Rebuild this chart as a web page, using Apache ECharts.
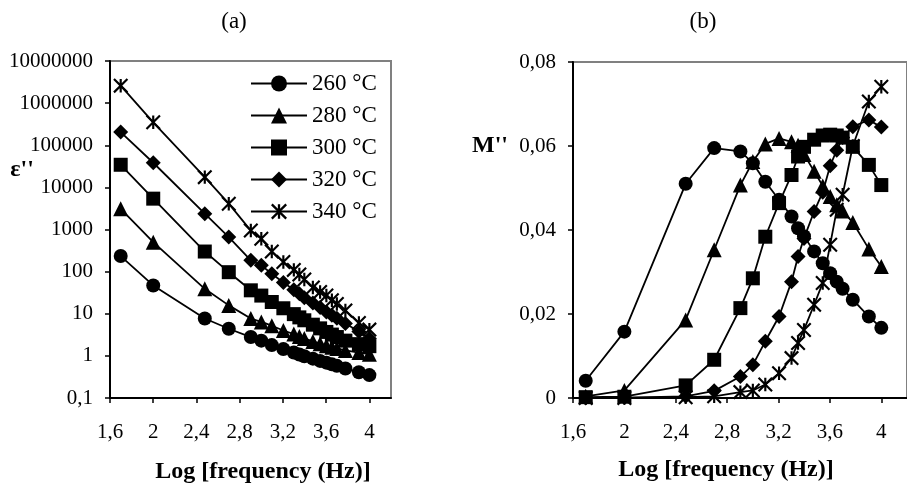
<!DOCTYPE html>
<html><head><meta charset="utf-8">
<script src="https://cdn.jsdelivr.net/npm/echarts@6/dist/echarts.min.js"></script>
<style>html,body{margin:0;padding:0;background:#fff}#c{width:907px;height:489px}</style>
</head><body><div id="c"></div>
<script>
// ---- data ----
var seriesNames = ['260 °C', '280 °C', '300 °C', '320 °C', '340 °C'];
var logFreq = [1.699, 2, 2.477, 2.699, 2.903, 3, 3.097, 3.204, 3.301, 3.352, 3.398, 3.477, 3.544, 3.602, 3.653, 3.699, 3.778, 3.903, 4];
// epsilon'' (panel a)
var eps260 = [234, 47, 7.7, 4.4, 2.8, 2.3, 1.8, 1.45, 1.2, 1.08, 0.98, 0.86, 0.76, 0.69, 0.63, 0.58, 0.5, 0.41, 0.35];
var eps280 = [3100, 500, 39, 15.8, 7.7, 6.4, 5.2, 4.0, 3.3, 2.9, 2.6, 2.2, 1.95, 1.75, 1.6, 1.5, 1.35, 1.2, 1.1];
var eps300 = [34400, 5400, 300, 97, 36, 27, 19, 13.5, 9.8, 8.2, 7, 5.5, 4.5, 3.7, 3.2, 2.8, 2.3, 1.9, 1.7];
var eps320 = [205000, 38400, 2370, 660, 185, 141, 89, 55, 37, 30, 24, 18, 14, 11, 9.2, 7.8, 5.9, 3.8, 2.6];
var eps340 = [2600000, 350000, 17500, 4100, 944, 605, 300, 170, 110, 85, 65, 42, 33, 27, 21, 17, 12, 6, 4.2];
// M'' (panel b)
var m260 = [0.0041, 0.0158, 0.051, 0.0595, 0.0587, 0.0559, 0.0515, 0.0472, 0.0432, 0.0404, 0.0385, 0.0349, 0.0321, 0.0297, 0.0277, 0.026, 0.0234, 0.0194, 0.0167];
var m280 = [0.0004, 0.0018, 0.0186, 0.0353, 0.0507, 0.0563, 0.0605, 0.0618, 0.061, 0.0602, 0.058, 0.054, 0.0505, 0.048, 0.046, 0.0445, 0.0418, 0.0355, 0.0313];
var m300 = [0.0002, 0.0003, 0.003, 0.0091, 0.0214, 0.0285, 0.0384, 0.0464, 0.0531, 0.0575, 0.0598, 0.0615, 0.0625, 0.0627, 0.0625, 0.062, 0.0598, 0.0555, 0.0507];
var m320 = [0, 0.0001, 0.0004, 0.0017, 0.0051, 0.0079, 0.0135, 0.0194, 0.0277, 0.0337, 0.038, 0.0444, 0.049, 0.0553, 0.059, 0.062, 0.0646, 0.0662, 0.0645];
var m340 = [0, 0, 0.0002, 0.0004, 0.0014, 0.0018, 0.0032, 0.0059, 0.0095, 0.0131, 0.0162, 0.0222, 0.0274, 0.0365, 0.0448, 0.0484, 0.060, 0.0706, 0.0741];
var xTicks = [1.6, 2, 2.4, 2.8, 3.2, 3.6, 4];
var epsTickLabels = ['0,1', '1', '10', '100', '1000', '10000', '100000', '1000000', '10000000'];
var mTickLabels = ['0', '0,02', '0,04', '0,06', '0,08'];

// ---- chart ----
var FONT = '"Liberation Serif", "Times New Roman", serif';
var star = 'path://M42,0 L58,0 L58,100 L42,100 Z M5.66,-5.66 L105.66,94.34 L94.34,105.66 L-5.66,5.66 Z M94.34,-5.66 L105.66,5.66 L5.66,105.66 L-5.66,94.34 Z';
var symbols = ['circle', 'triangle', 'rect', 'diamond', star];
var symSizes = [14, 15, 14, 15, 15];
var epsData = [eps260, eps280, eps300, eps320, eps340];
var mData = [m260, m280, m300, m320, m340];

function pairs(ys) { return logFreq.map(function (x, i) { return [x, ys[i]]; }); }
function xFmt(v) { return (Math.round(v * 10) / 10).toString().replace('.', ','); }

var series = [];
for (var k = 0; k < 5; k++) {
  series.push({
    name: seriesNames[k], type: 'line', xAxisIndex: 0, yAxisIndex: 0,
    data: pairs(epsData[k]), symbol: symbols[k], symbolSize: symSizes[k],
    lineStyle: { color: '#000', width: 1.8 }, itemStyle: { color: '#000' },
    emphasis: { disabled: true }, z: 3 + k
  });
  series.push({
    name: seriesNames[k], type: 'line', xAxisIndex: 1, yAxisIndex: 1,
    data: pairs(mData[k]), symbol: symbols[k], symbolSize: symSizes[k],
    lineStyle: { color: '#000', width: 1.8 }, itemStyle: { color: '#000' },
    emphasis: { disabled: true }, z: 3 + k
  });
}

function xAxis(gi) {
  return {
    type: 'value', gridIndex: gi, min: 1.6, max: 4.2, interval: 0.4,
    axisLine: { show: true, onZero: false, lineStyle: { color: '#000', width: 2 } },
    axisTick: { show: true, length: 5, lineStyle: { color: '#000', width: 1.5 }, customValues: xTicks },
    axisLabel: { customValues: xTicks, formatter: xFmt, fontFamily: FONT, fontSize: 21, color: '#000', margin: 24 },
    splitLine: { show: false }
  };
}

var option = {
  animation: false,
  backgroundColor: '#fff',
  grid: [
    { left: 110, top: 61, width: 281, bottom: 91, show: true, borderColor: '#808080', borderWidth: 2, backgroundColor: 'transparent' },
    { left: 573, top: 62, width: 345, bottom: 91, show: true, borderColor: '#808080', borderWidth: 2, backgroundColor: 'transparent' }
  ],
  xAxis: [xAxis(0), xAxis(1)],
  yAxis: [
    {
      type: 'log', gridIndex: 0, logBase: 10, min: 0.1, max: 10000000,
      axisLine: { show: true, lineStyle: { color: '#000', width: 2 } },
      axisTick: { show: true, length: 5, lineStyle: { color: '#000', width: 1.5 } },
      axisLabel: {
        fontFamily: FONT, fontSize: 21, color: '#000', margin: 17,
        formatter: function (v) { var e = Math.round(Math.log10(v)) + 1; return epsTickLabels[e] || ''; }
      },
      splitLine: { show: false }, minorTick: { show: false }
    },
    {
      type: 'value', gridIndex: 1, min: 0, max: 0.08, interval: 0.02,
      axisLine: { show: true, lineStyle: { color: '#000', width: 2 } },
      axisTick: { show: true, length: 5, lineStyle: { color: '#000', width: 1.5 } },
      axisLabel: {
        fontFamily: FONT, fontSize: 21, color: '#000', margin: 17,
        formatter: function (v) { return mTickLabels[Math.round(v / 0.02)] || ''; }
      },
      splitLine: { show: false }
    }
  ],
  legend: {
    data: seriesNames, orient: 'vertical', left: 250, top: 72, padding: 0,
    itemWidth: 56, itemHeight: 20, itemGap: 9,
    textStyle: { fontFamily: FONT, fontSize: 23, color: '#000' },
    selectedMode: false
  },
  graphic: [
    { type: 'text', x: 234, y: 22, style: { text: '(a)', font: '23px ' + FONT, fill: '#000', align: 'center', verticalAlign: 'middle' } },
    { type: 'text', x: 703, y: 22, style: { text: '(b)', font: '23px ' + FONT, fill: '#000', align: 'center', verticalAlign: 'middle' } },
    { type: 'text', x: 22, y: 170, style: { text: "ε''", font: 'bold 24px ' + FONT, fill: '#000', align: 'center', verticalAlign: 'middle' } },
    { type: 'text', x: 490, y: 146, style: { text: "M''", font: 'bold 24px ' + FONT, fill: '#000', align: 'center', verticalAlign: 'middle' } },
    { type: 'text', x: 263, y: 472, style: { text: 'Log [frequency (Hz)]', font: 'bold 24px ' + FONT, fill: '#000', align: 'center', verticalAlign: 'middle' } },
    { type: 'text', x: 726, y: 470, style: { text: 'Log [frequency (Hz)]', font: 'bold 24px ' + FONT, fill: '#000', align: 'center', verticalAlign: 'middle' } }
  ],
  series: series
};
var chart = echarts.init(document.getElementById('c'), null, { renderer: 'canvas' });
chart.setOption(option);
</script>
</body></html>
